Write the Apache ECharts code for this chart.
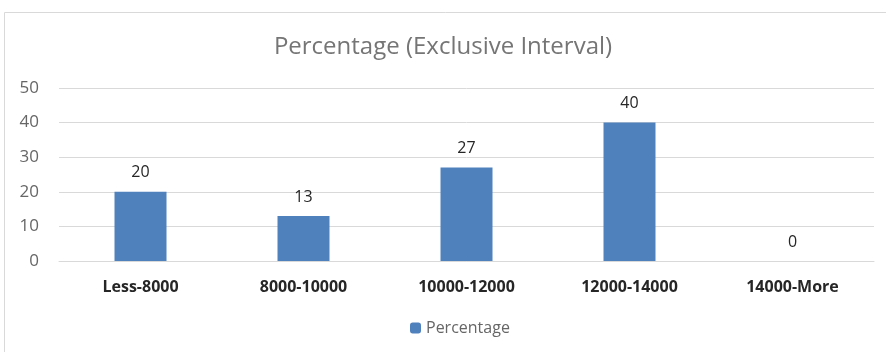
<!DOCTYPE html>
<html>
<head>
<meta charset="utf-8">
<script src="https://cdn.jsdelivr.net/npm/echarts@6/dist/echarts.min.js"></script>
<style>
  html, body { margin: 0; padding: 0; background: #fff; }
  #chart { width: 886px; height: 352px; }
</style>
</head>
<body>
<div id="chart"></div>
<script>
var categories = ['Less-8000', '8000-10000', '10000-12000', '12000-14000', '14000-More'];
var percentage = [20, 13, 27, 40, 0];

var chart = echarts.init(document.getElementById('chart'));

var option = {
	animation: false,
	graphic: [{
		type: 'rect',
		shape: {x: 4.5, y: 12.5, width: 900, height: 400},
		style: {fill: 'none', stroke: '#d9d9d9', lineWidth: 1},
		silent: true
	}],
	title: {
		text: 'Percentage (Exclusive Interval)',
		left: 'center',
		top: 30,
		textStyle: {fontFamily: 'Open Sans', fontWeight: 'normal', fontSize: 24, color: '#757575'}
	},
	legend: {
		data: ['Percentage'],
		bottom: 11,
		left: 405,
		itemWidth: 11,
		itemHeight: 11,
		itemGap: 4,
		textStyle: {fontFamily: 'Open Sans', fontSize: 16, color: '#666'}
	},
	grid: {left: 59, right: 12, top: 88, bottom: 91},
	xAxis: {
		type: 'category',
		data: categories,
		axisTick: {show: false},
		axisLine: {lineStyle: {color: '#d9d9d9'}},
		axisLabel: {margin: 18, fontFamily: 'Open Sans', fontWeight: 'bold', fontSize: 16, color: '#262626'}
	},
	yAxis: {
		type: 'value',
		min: 0,
		max: 50,
		interval: 10,
		axisLine: {show: false},
		axisTick: {show: false},
		splitLine: {lineStyle: {color: '#d9d9d9'}},
		axisLabel: {margin: 20, fontFamily: 'Open Sans', fontSize: 17, color: '#666'}
	},
	series: [{
		name: 'Percentage',
		type: 'bar',
		data: percentage,
		barWidth: 52,
		itemStyle: {color: '#4f81bd'},
		label: {
			show: true,
			position: 'top',
			distance: 11,
			fontFamily: 'Open Sans',
			fontSize: 16,
			color: '#262626'
		}
	}]
};

chart.setOption(option);
</script>
</body>
</html>
